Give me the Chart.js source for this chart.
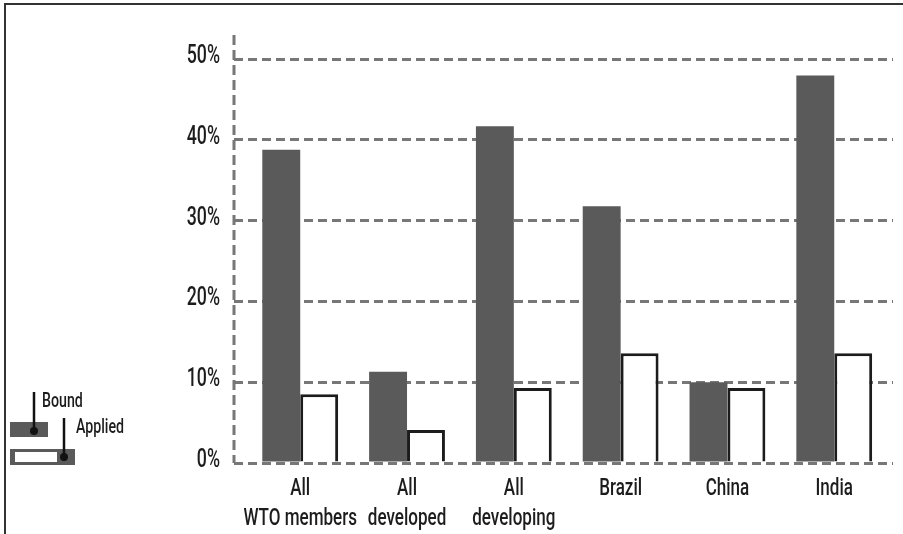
<!DOCTYPE html>
<html>
<head>
<meta charset="utf-8">
<script src="https://cdn.jsdelivr.net/npm/chart.js@4/dist/chart.umd.min.js"></script>
<style>
  html, body { margin: 0; padding: 0; background: #fff; }
  #wrap { width: 903px; height: 534px; }
</style>
</head>
<body>
<div id="wrap"><canvas id="chart" width="903" height="534"></canvas></div>
<script>
const categories = [
  ['All', 'WTO members'],
  ['All', 'developed'],
  ['All', 'developing'],
  'Brazil',
  'China',
  'India'
];
const boundValues = [38.8, 11.3, 41.7, 31.8, 10.0, 48.0];
const appliedValues = [8.5, 4.1, 9.3, 13.6, 9.3, 13.6];
const yTicks = [0, 10, 20, 30, 40, 50];

const FONT = 'Roboto, "Liberation Sans", sans-serif';
const SQUEEZE = 0.71; // the original uses a condensed face
const GRID = '#777777';
const BOUND = '#5a5a5a';
const INK = '#1c1c1c';

function narrowText(ctx, text, x, y, align) {
  ctx.save();
  ctx.translate(x, y);
  ctx.scale(SQUEEZE, 1);
  ctx.textAlign = align;
  ctx.fillText(text, 0, 0);
  ctx.restore();
}

// frame lines on top and left of the picture
const framePlugin = {
  id: 'framePlugin',
  beforeDraw(chart) {
    const ctx = chart.ctx;
    ctx.save();
    ctx.strokeStyle = '#333';
    ctx.lineWidth = 2;
    ctx.beginPath();
    ctx.moveTo(903, 4);
    ctx.lineTo(5, 4);
    ctx.lineTo(5, 534);
    ctx.stroke();
    ctx.restore();
  }
};

// dashed y axis line + condensed tick labels
const axisPlugin = {
  id: 'axisPlugin',
  afterDraw(chart) {
    const ctx = chart.ctx;
    const area = chart.chartArea;
    const xs = chart.scales.x;
    const ys = chart.scales.y;
    ctx.save();
    ctx.strokeStyle = GRID;
    ctx.lineWidth = 3;
    ctx.setLineDash([10, 5]);
    ctx.beginPath();
    ctx.moveTo(area.left, area.top);
    ctx.lineTo(area.left, area.bottom);
    ctx.stroke();
    ctx.setLineDash([]);

    ctx.fillStyle = INK;
    ctx.textBaseline = 'alphabetic';
    ctx.font = '500 25px ' + FONT;
    yTicks.forEach(v => {
      narrowText(ctx, v + '%', area.left - 14, ys.getPixelForValue(v) + 4, 'right');
    });

    ctx.font = '500 24px ' + FONT;
    categories.forEach((c, i) => {
      const lines = Array.isArray(c) ? c : [c];
      const x = xs.getPixelForValue(i);
      lines.forEach((t, k) => {
        narrowText(ctx, t, x, area.bottom + 32 + k * 30, 'center');
      });
    });
    ctx.restore();
  }
};

// the little key in the bottom-left corner
const keyPlugin = {
  id: 'keyPlugin',
  afterDraw(chart) {
    const ctx = chart.ctx;
    ctx.save();
    ctx.fillStyle = BOUND;
    ctx.fillRect(10, 422, 38, 15);
    ctx.fillRect(10, 449, 65, 16);
    ctx.fillStyle = '#fff';
    ctx.fillRect(15, 452, 42, 10);

    ctx.strokeStyle = '#111';
    ctx.fillStyle = '#111';
    ctx.lineWidth = 2.5;
    ctx.beginPath();
    ctx.moveTo(34, 392);
    ctx.lineTo(34, 431);
    ctx.stroke();
    ctx.beginPath();
    ctx.arc(34, 431, 4, 0, Math.PI * 2);
    ctx.fill();

    ctx.beginPath();
    ctx.moveTo(64, 418);
    ctx.lineTo(64, 457);
    ctx.stroke();
    ctx.beginPath();
    ctx.arc(64, 457, 4, 0, Math.PI * 2);
    ctx.fill();

    ctx.font = '500 20px ' + FONT;
    ctx.textBaseline = 'alphabetic';
    ctx.fillStyle = INK;
    narrowText(ctx, 'Bound', 42, 407, 'left');
    narrowText(ctx, 'Applied', 76, 433, 'left');
    ctx.restore();
  }
};

new Chart(document.getElementById('chart'), {
  type: 'bar',
  data: {
    datasets: [
      {
        label: 'Bound',
        data: boundValues.map((v, i) => ({ x: i, y: v })),
        backgroundColor: BOUND,
        borderWidth: 0
      },
      {
        label: 'Applied',
        data: appliedValues.map((v, i) => ({ x: i, y: v })),
        backgroundColor: '#ffffff',
        borderColor: INK,
        borderWidth: 3,
        borderSkipped: 'bottom'
      }
    ]
  },
  plugins: [framePlugin, axisPlugin, keyPlugin],
  options: {
    responsive: false,
    animation: false,
    layout: { padding: { top: 35, right: 10, left: 0, bottom: 0 } },
    datasets: {
      bar: { categoryPercentage: 0.71, barPercentage: 1.0 }
    },
    scales: {
      x: {
        type: 'linear',
        offset: false,
        min: -0.62,
        max: 5.55,
        afterBuildTicks: scale => {
          scale.ticks = categories.map((_, i) => ({ value: i }));
        },
        afterFit: scale => { scale.height = 71; },
        grid: { display: false },
        border: { display: false },
        ticks: { display: false }
      },
      y: {
        min: 0,
        max: 53,
        afterBuildTicks: scale => {
          scale.ticks = yTicks.map(v => ({ value: v }));
        },
        afterFit: scale => { scale.width = 234; },
        grid: {
          color: GRID,
          lineWidth: 3,
          drawTicks: false
        },
        border: {
          display: false,
          dash: [9, 5]
        },
        ticks: { display: false }
      }
    },
    plugins: {
      legend: { display: false },
      tooltip: { enabled: false }
    }
  }
});
</script>
</body>
</html>
